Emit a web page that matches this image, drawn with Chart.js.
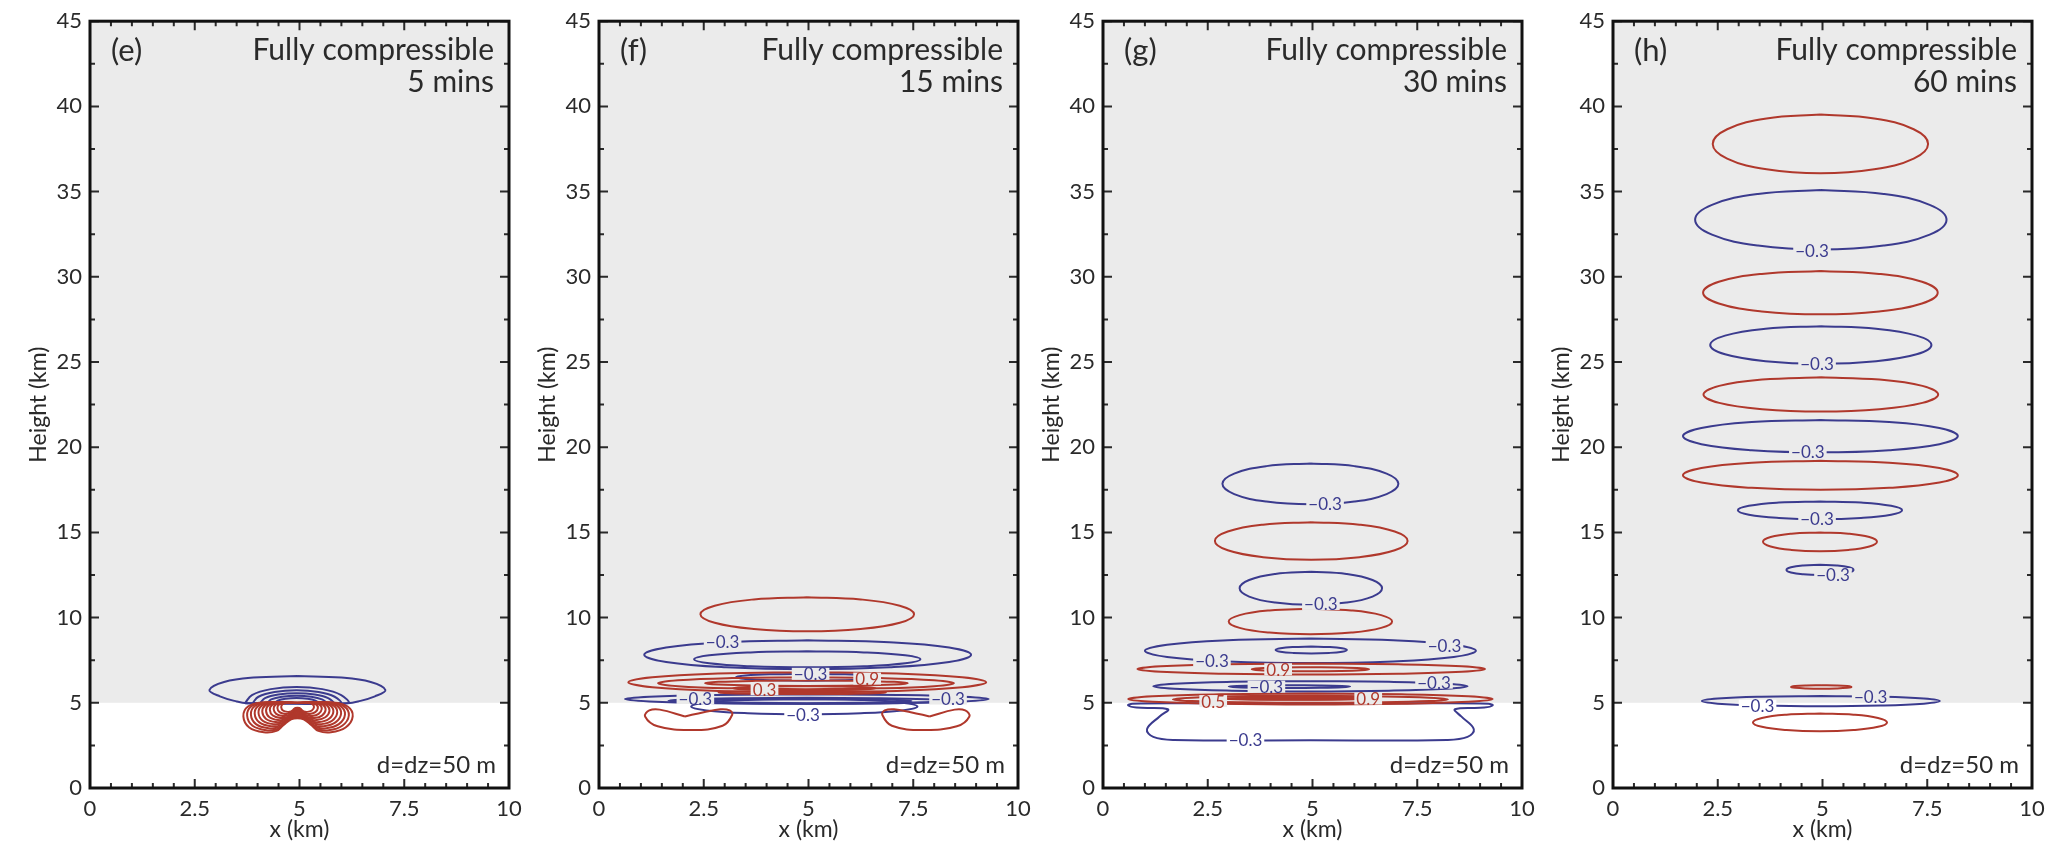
<!DOCTYPE html>
<html lang="en">
<head>
<meta charset="UTF-8">
<title>Fully compressible – perturbation contours</title>
<script src="https://cdn.jsdelivr.net/npm/chart.js@4.4.1/dist/chart.umd.min.js"></script>
<style>
  html, body { margin: 0; padding: 0; background: #fff; }
  #wrap { position: relative; width: 2056px; height: 843px; overflow: hidden; }
  #wrap canvas { position: absolute; top: 0; }
</style>
</head>
<body>
<div id="wrap">
  <canvas id="panelE" width="533" height="843" style="left:0px;width:533px;height:843px"></canvas>
  <canvas id="panelF" width="533" height="843" style="left:509px;width:533px;height:843px"></canvas>
  <canvas id="panelG" width="533" height="843" style="left:1013px;width:533px;height:843px"></canvas>
  <canvas id="panelH" width="533" height="843" style="left:1523px;width:533px;height:843px"></canvas>
</div>
<script>
  const panelTags = ['(e)', '(f)', '(g)', '(h)'];
  const panelTimes = ['5 mins', '15 mins', '30 mins', '60 mins'];
  const modelName = 'Fully compressible';
  const gridNote = 'd=dz=50 m';
  const layerBase = 5;      // km, bottom of the shaded layer
  const xMax = 10, yMax = 45;

  const NEG = '#3b3b8e';
  const POS = '#b0382c';
  const SHADE = '#ebebeb';
  const INK = '#2a2a2a';

  // ---- (e) 5 mins ----
  // outer negative contour, [x, z] in km
  const eOuterNeg = [[4.95,6.57],[6.0,6.48],[6.7,6.22],[7.05,5.75],[6.8,5.38],[6.4,5.08],[6.15,4.98],
                     [4.95,4.98],[3.75,4.98],[3.5,5.08],[3.1,5.38],[2.85,5.75],[3.2,6.22],[3.9,6.48],[4.95,6.57]];
  // nested negative domes: [centre x, base z, half-width, height]
  const eDomesNeg = [[4.93,4.98,1.23,0.95],[4.93,4.98,1.05,0.75],[4.93,4.98,0.87,0.58],[4.93,4.98,0.7,0.44],[4.93,4.98,0.52,0.3]];
  // outer positive two-lobed contour
  const eBeanPos = [[4.95,5.0],[5.8,5.02],[6.15,4.78],[6.27,4.2],[6.1,3.55],[5.75,3.27],[5.45,3.35],[5.28,3.7],[5.1,4.03],[4.95,4.1],
                    [4.8,4.03],[4.62,3.7],[4.45,3.35],[4.15,3.27],[3.8,3.55],[3.66,4.2],[3.77,4.78],[4.1,5.02],[4.95,5.0]];
  // relative size of each nested positive level
  const eBeanLevels = [1, 0.93, 0.86, 0.79, 0.72, 0.65, 0.58, 0.51, 0.44, 0.37, 0.3];

  // ---- (f) 15 mins ----  [sign, centre x, centre z, half-width, half-height]
  const fOvals = [
    [1, 4.97, 10.2, 2.55, 1.0],
    [-1, 4.98, 7.82, 3.9, 0.85],
    [-1, 4.97, 7.55, 2.7, 0.47],
    [-1, 4.97, 6.5, 1.7, 0.2],
    [-1, 4.96, 5.22, 4.34, 0.28],
    [-1, 4.9, 4.78, 2.7, 0.45],
    [-1, 4.96, 5.12, 3.3, 0.17],
    [-1, 4.96, 5.1, 2.5, 0.12],
    [1, 4.97, 6.21, 4.27, 0.59],
    [1, 4.94, 6.15, 3.53, 0.35],
    [1, 4.95, 6.15, 2.42, 0.16],
    [1, 4.9, 5.85, 1.7, 0.12],
    [1, 4.85, 5.6, 2.0, 0.09]
  ];
  const fLobeLeft = [[2.05,4.2],[2.5,4.45],[2.9,4.62],[3.12,4.55],[3.18,4.3],[2.95,3.65],[2.2,3.4],[1.4,3.62],[1.1,4.2],[1.2,4.55],[1.45,4.6],[2.05,4.2]];
  const fLobeRight = [[7.89,4.2],[7.44,4.45],[7.04,4.62],[6.82,4.55],[6.76,4.3],[6.99,3.65],[7.74,3.4],[8.54,3.62],[8.84,4.2],[8.74,4.55],[8.49,4.6],[7.89,4.2]];
  const fLabels = [[2.95,8.6,'−0.3',-1],[5.05,6.7,'−0.3',-1],[2.3,5.28,'−0.3',-1],[8.33,5.25,'−0.3',-1],[4.87,4.33,'−0.3',-1],[6.4,6.42,'0.9',1],[3.95,5.8,'0.3',1]];

  // ---- (g) 30 mins ----
  const gOvals = [
    [-1, 4.95, 17.85, 2.1, 1.2],
    [1, 4.97, 14.5, 2.3, 1.1],
    [-1, 4.96, 11.72, 1.7, 0.97],
    [1, 4.95, 9.77, 1.95, 0.75],
    [-1, 4.95, 8.05, 3.95, 0.72],
    [-1, 4.97, 8.1, 0.85, 0.2],
    [-1, 4.95, 5.97, 3.75, 0.3],
    [-1, 4.45, 5.95, 1.45, 0.08],
    [1, 4.97, 6.98, 4.15, 0.32],
    [1, 4.95, 6.97, 1.4, 0.12],
    [1, 4.95, 5.22, 4.35, 0.32],
    [1, 4.95, 5.2, 3.28, 0.2],
    [1, 4.6, 5.3, 2.0, 0.12],
    [1, 4.6, 5.25, 1.6, 0.06]
  ];
  const gFlareNeg = [[4.95,4.95],[7.5,4.97],[9.2,4.95],[9.3,4.85],[9.1,4.72],[8.4,4.62],[8.55,4.2],[8.85,3.45],[8.7,3.0],[8.2,2.82],
                     [4.95,2.8],[1.7,2.82],[1.2,3.0],[1.05,3.45],[1.35,4.2],[1.55,4.62],[0.8,4.72],[0.6,4.85],[0.7,4.95],[2.4,4.97],[4.95,4.95]];
  const gLabels = [[5.3,16.68,'−0.3',-1],[5.2,10.8,'−0.3',-1],[8.15,8.38,'−0.3',-1],[2.6,7.5,'−0.3',-1],[7.9,6.18,'−0.3',-1],
                   [3.4,2.82,'−0.3',-1],[3.9,5.95,'−0.3',-1],[4.18,6.97,'0.9',1],[6.33,5.25,'0.9',1],[2.63,5.1,'0.5',1]];

  // ---- (h) 60 mins ----
  const hOvals = [
    [1, 4.95, 37.8, 2.57, 1.72],
    [-1, 4.96, 33.35, 3.0, 1.75],
    [1, 4.95, 29.07, 2.8, 1.27],
    [-1, 4.96, 26.0, 2.64, 1.1],
    [1, 4.96, 23.1, 2.8, 1.0],
    [-1, 4.95, 20.65, 3.28, 0.95],
    [1, 4.95, 18.35, 3.28, 0.85],
    [-1, 4.94, 16.3, 1.96, 0.52],
    [1, 4.94, 14.45, 1.36, 0.55],
    [-1, 4.94, 12.8, 0.8, 0.3],
    [1, 4.97, 5.93, 0.72, 0.1],
    [-1, 4.96, 5.1, 2.84, 0.3],
    [1, 4.94, 3.85, 1.6, 0.52]
  ];
  const hLabels = [[4.75,31.55,'−0.3',-1],[4.87,24.92,'−0.3',-1],[4.65,19.72,'−0.3',-1],[4.87,15.8,'−0.3',-1],
                   [5.25,12.55,'−0.3',-1],[6.15,5.38,'−0.3',-1],[3.45,4.83,'−0.3',-1]];

  // closed loop through the top, sides and bottom of an oval
  function oval(cx, cy, a, b) {
    const ring = [[0,1],[0.5,0.866],[0.866,0.5],[1,0],[0.866,-0.5],[0.5,-0.866],[0,-1],
                  [-0.5,-0.866],[-0.866,-0.5],[-1,0],[-0.866,0.5],[-0.5,0.866],[0,1]];
    return ring.map(([u, v]) => [cx + u * a, cy + v * b]);
  }
  function dome(cx, base, a, h) {
    const arc = [[-1,0],[-0.866,0.5],[-0.5,0.866],[0,1],[0.5,0.866],[0.866,0.5],[1,0]];
    return arc.map(([u, v]) => [cx + u * a, base + v * h]).concat([[cx, base], [cx - a, base]]);
  }
  function shrink(pts, ax, ay, s) {
    return pts.map(([px, py]) => [ax + (px - ax) * s, ay + (py - ay) * s]);
  }
  const fromOvals = list => list.map(o => ({ sign: o[0], pts: oval(o[1], o[2], o[3], o[4]) }));

  const panels = [
    { id: 'panelE', labels: [], layers: [
        { sign: -1, pts: eOuterNeg },
        ...eDomesNeg.map(d => ({ sign: -1, pts: dome(d[0], d[1], d[2], d[3]) })),
        ...eBeanLevels.map(s => ({ sign: 1, pts: shrink(eBeanPos, 4.95, 4.98, s) }))
      ] },
    { id: 'panelF', labels: fLabels, layers: [
        ...fromOvals(fOvals),
        { sign: 1, pts: fLobeLeft },
        { sign: 1, pts: fLobeRight }
      ] },
    { id: 'panelG', labels: gLabels, layers: [
        { sign: -1, pts: gFlareNeg },
        ...fromOvals(gOvals)
      ] },
    { id: 'panelH', labels: hLabels, layers: fromOvals(hOvals) }
  ];

  const decor = {
    id: 'decor',
    beforeDatasetsDraw(chart) {
      const { ctx, chartArea: a, scales: { y } } = chart;
      const top = y.getPixelForValue(yMax), base = y.getPixelForValue(layerBase);
      ctx.save();
      ctx.fillStyle = SHADE;
      ctx.fillRect(a.left, top, a.right - a.left, base - top);
      ctx.restore();
    },
    afterDatasetsDraw(chart, args, opts) {
      const { ctx, chartArea: a, scales: { x, y } } = chart;
      ctx.save();
      // inline contour labels
      ctx.font = '17px Lato';
      ctx.textAlign = 'center';
      ctx.textBaseline = 'middle';
      opts.labels.forEach(([lx, ly, txt, sign]) => {
        const px = x.getPixelForValue(lx), py = y.getPixelForValue(ly);
        const w = ctx.measureText(txt).width;
        ctx.fillStyle = ly >= layerBase ? SHADE : '#fff';
        ctx.fillRect(px - w / 2 - 2, py - 6, w + 4, 12);
        ctx.fillStyle = sign < 0 ? NEG : POS;
        ctx.fillText(txt, px, py + 1);
      });

      // inward ticks on all four sides
      ctx.strokeStyle = INK;
      ctx.lineWidth = 2;
      ctx.beginPath();
      for (let v = 0; v <= xMax + 1e-6; v += 0.5) {
        const px = x.getPixelForValue(v);
        const len = Math.abs(v / 2.5 - Math.round(v / 2.5)) < 1e-6 ? 9 : 5;
        ctx.moveTo(px, a.bottom); ctx.lineTo(px, a.bottom - len);
        ctx.moveTo(px, a.top); ctx.lineTo(px, a.top + len);
      }
      for (let v = 0; v <= yMax + 1e-6; v += 2.5) {
        const py = y.getPixelForValue(v);
        const len = v % 5 === 0 ? 9 : 5;
        ctx.moveTo(a.left, py); ctx.lineTo(a.left + len, py);
        ctx.moveTo(a.right, py); ctx.lineTo(a.right - len, py);
      }
      ctx.stroke();

      // frame
      ctx.lineWidth = 3;
      ctx.strokeStyle = '#111';
      ctx.strokeRect(a.left, a.top, a.right - a.left, a.bottom - a.top);

      // panel annotations
      ctx.fillStyle = INK;
      ctx.textBaseline = 'alphabetic';
      ctx.font = '31px Lato';
      ctx.textAlign = 'left';
      ctx.fillText(opts.tag, a.left + 21, a.top + 40);
      ctx.font = '30px Lato';
      ctx.textAlign = 'right';
      ctx.fillText(modelName, a.right - 15, a.top + 39);
      ctx.fillText(opts.time, a.right - 15, a.top + 71);
      ctx.font = '24px Lato';
      ctx.fillText(gridNote, a.right - 13, a.bottom - 15);
      ctx.restore();
    }
  };

  function makePanel(panel, i) {
    const datasets = panel.layers.map(l => ({
      data: l.pts.map(([px, py]) => ({ x: px, y: py })),
      showLine: true,
      borderColor: l.sign < 0 ? NEG : POS,
      borderWidth: 2,
      pointRadius: 0,
      tension: 0.4,
      fill: false
    })).reverse();   // first layer is painted first

    const tickFont = { family: 'Lato', size: 22 };
    const titleFont = { family: 'Lato', size: 23 };

    new Chart(document.getElementById(panel.id), {
      type: 'scatter',
      data: { datasets },
      options: {
        responsive: false,
        animation: false,
        events: [],
        layout: { padding: { top: 21, right: 24, left: 0, bottom: 0 } },
        plugins: {
          legend: { display: false },
          tooltip: { enabled: false },
          decor: { tag: panelTags[i], time: panelTimes[i], labels: panel.labels }
        },
        scales: {
          x: {
            type: 'linear', min: 0, max: xMax,
            grid: { display: false, drawTicks: false },
            border: { display: false },
            ticks: { stepSize: 2.5, padding: 8, color: INK, font: tickFont, autoSkip: false, maxRotation: 0 },
            title: { display: true, text: 'x (km)', color: INK, font: titleFont, padding: { top: 0, bottom: 0 } },
            afterFit: s => { s.height = 55; }
          },
          y: {
            type: 'linear', min: 0, max: yMax,
            grid: { display: false, drawTicks: false },
            border: { display: false },
            ticks: { stepSize: 5, padding: 8, color: INK, font: tickFont, autoSkip: false },
            title: { display: true, text: 'Height (km)', color: INK, font: titleFont, padding: { top: 25, bottom: 0 } },
            afterFit: s => { s.width = 90; }
          }
        }
      },
      plugins: [decor]
    });
  }

  const start = () => panels.forEach(makePanel);
  if (document.fonts && document.fonts.load) {
    Promise.all([document.fonts.load('22px Lato'), document.fonts.load('30px Lato')]).then(start, start);
  } else {
    start();
  }
</script>
</body>
</html>
